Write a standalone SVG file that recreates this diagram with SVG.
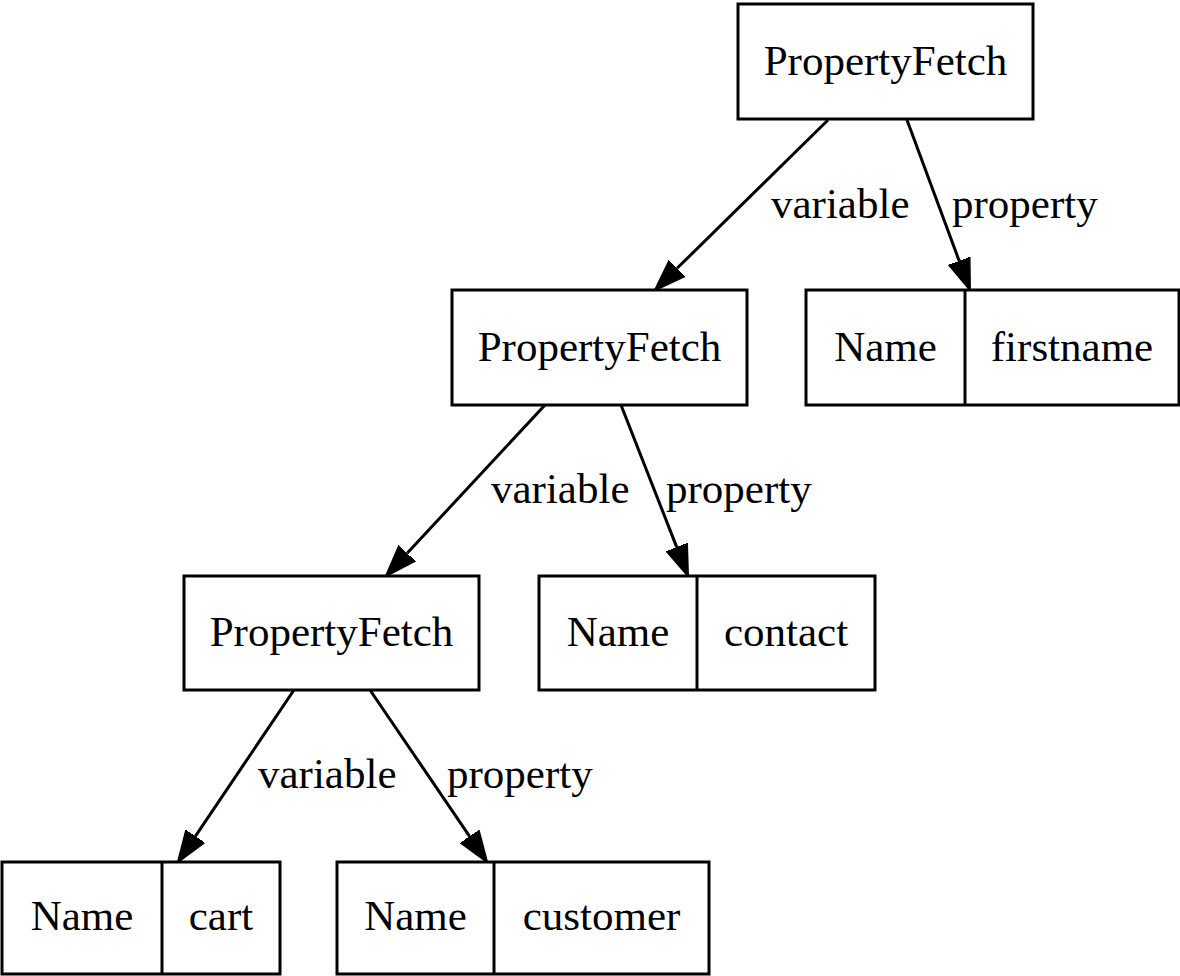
<svg xmlns="http://www.w3.org/2000/svg" width="1180" height="976" viewBox="0 0 1180 976">
<style>
.box{fill:#fff;stroke:#000;stroke-width:3}
.div{stroke:#000;stroke-width:3}
.t{font-family:"Liberation Serif","Times New Roman",serif;font-size:43px;fill:#000;text-anchor:middle}
.l{font-family:"Liberation Serif","Times New Roman",serif;font-size:43px;fill:#000;text-anchor:start}
.e{stroke:#000;stroke-width:3;fill:none}
</style>
<defs>
<marker id="arr" markerUnits="userSpaceOnUse" viewBox="0 -12 33 24" refX="0" refY="0" markerWidth="33" markerHeight="24" orient="auto">
<path d="M0,-11 L31,0 L0,11 Z" fill="#000" stroke="#000" stroke-width="2" stroke-linejoin="miter"/>
</marker>
</defs>
<rect width="1180" height="976" fill="#fff"/>
<g id="connectors">
<line class="e" x1="828" y1="120" x2="677.1" y2="268.3" marker-end="url(#arr)"/>
<text class="l" x="771" y="218">variable</text>
<line class="e" x1="907" y1="120" x2="959.2" y2="260.9" marker-end="url(#arr)"/>
<text class="l" x="952" y="218">property</text>
<line class="e" x1="545" y1="405" x2="407.1" y2="553.3" marker-end="url(#arr)"/>
<text class="l" x="491" y="503">variable</text>
<line class="e" x1="621" y1="405" x2="676.7" y2="547.1" marker-end="url(#arr)"/>
<text class="l" x="666" y="503">property</text>
<line class="e" x1="294" y1="690" x2="195.3" y2="836.3" marker-end="url(#arr)"/>
<text class="l" x="258" y="788">variable</text>
<line class="e" x1="370" y1="690" x2="469.6" y2="836.4" marker-end="url(#arr)"/>
<text class="l" x="447" y="788">property</text>
</g>
<g id="pf1">
<rect class="box" x="738" y="4" width="295" height="115"/>
<text class="t" x="885.5" y="75">PropertyFetch</text>
</g>
<g id="pf2">
<rect class="box" x="452" y="290" width="295" height="115"/>
<text class="t" x="599.5" y="361">PropertyFetch</text>
</g>
<g id="name_firstname">
<rect class="box" x="806" y="290" width="373" height="115"/>
<line class="div" x1="965" y1="290" x2="965" y2="405"/>
<text class="t" x="885.5" y="361">Name</text>
<text class="t" x="1072" y="361">firstname</text>
</g>
<g id="pf3">
<rect class="box" x="184" y="576" width="295" height="114"/>
<text class="t" x="331.5" y="646">PropertyFetch</text>
</g>
<g id="name_contact">
<rect class="box" x="539" y="576" width="336" height="114"/>
<line class="div" x1="697" y1="576" x2="697" y2="690"/>
<text class="t" x="618" y="646">Name</text>
<text class="t" x="786" y="646">contact</text>
</g>
<g id="name_cart">
<rect class="box" x="2" y="862" width="278" height="112"/>
<line class="div" x1="162" y1="862" x2="162" y2="974"/>
<text class="t" x="82" y="930">Name</text>
<text class="t" x="221" y="930">cart</text>
</g>
<g id="name_customer">
<rect class="box" x="337" y="862" width="372" height="112"/>
<line class="div" x1="494" y1="862" x2="494" y2="974"/>
<text class="t" x="415.5" y="930">Name</text>
<text class="t" x="601.5" y="930">customer</text>
</g>
</svg>
